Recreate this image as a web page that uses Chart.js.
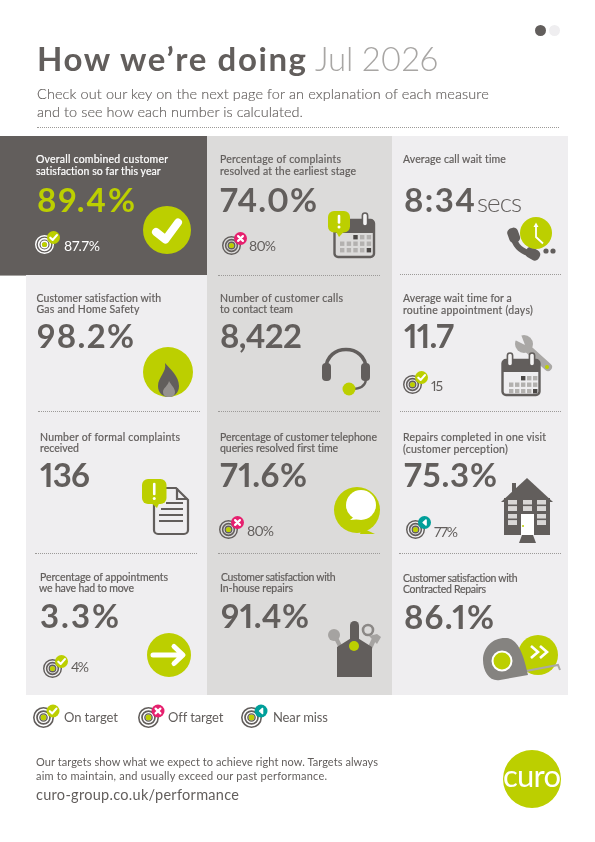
<!DOCTYPE html>
<html>
<head>
<meta charset="utf-8">
<title>How we're doing</title>
<script src="https://cdn.jsdelivr.net/npm/chart.js@4"></script>
<style>
html,body{margin:0;padding:0;background:#fff}
#page{position:relative;width:595px;height:842px;overflow:hidden;font-family:Lato,sans-serif;color:#625e5c}
.panel,.dots,canvas,#art,.txt{position:absolute}
.dots{height:0;border-top:1px dotted #9c9a98}
.txt{white-space:nowrap;z-index:5;line-height:1;font-variant-numeric:proportional-nums;font-feature-settings:"pnum"}
#art{left:0;top:0;z-index:3}
canvas{z-index:2}
</style>
</head>
<body>
<div id="page"></div>
<script>
// DATA
const tileTitles = [
	["Overall combined customer", "satisfaction so far this year"],
	["Percentage of complaints", "resolved at the earliest stage"],
	["Average call wait time"],
	["Customer satisfaction with", "Gas and Home Safety"],
	["Number of customer calls", "to contact team"],
	["Average wait time for a", "routine appointment (days)"],
	["Number of formal complaints", "received"],
	["Percentage of customer telephone", "queries resolved first time"],
	["Repairs completed in one visit", "(customer perception)"],
	["Percentage of appointments", "we have had to move"],
	["Customer satisfaction with", "In-house repairs"],
	["Customer satisfaction with", "Contracted Repairs"]
];
const tileValues = ["89.4%", "74.0%", "8:34", "98.2%", "8,422", "11.7", "136", "71.6%", "75.3%", "3.3%", "91.4%", "86.1%"];
const tileTargets = ["87.7%", "80%", null, null, null, "15", null, "80%", "77%", "4%", null, null];
const tileStatus = ["on", "off", null, null, null, "on", null, "off", "near", "on", null, null];
const legendLabels = ["On target", "Off target", "Near miss"];
const legendStatus = ["on", "off", "near"];

// LAYOUT (x, width, baseline)
const titleBoxes = [
	[[36,132,163],[36,125,175]], [[220,121,163],[220,136,175]], [[403,103,163]],
	[[36.5,125,302],[36.5,103,313]], [[220,123,302],[220,73,313]], [[403,109,302],[403,130,314]],
	[[40,140,441],[40,39,452]], [[220,157,441],[220,118,452]], [[403,143,441],[403,105,453]],
	[[40,128,581],[39,95,592]], [[221,115,581],[220,73,592]], [[403,115,582],[403,83,593]]
];
const valueBoxes = [[37,98,212],[220,97,212],[404,71,212],[37,97,348],[220,82,348],[404,50,348],[40,50,487],[220,87,487],[404,93,487],[40,79,628],[221,88,628],[404,90,629]];
const targetBoxes = [[64,36,250.5],[249,27,250.5],null,null,null,[431,12,391],null,[247,27,536],[434,24,537],[71,18,672],null,null];
const ringSpots = [[44,244],[231,245],null,null,null,[412,384],null,[228,529],[415,529],[52,668],null,null];
const legendBoxes = [[64,54,722],[168,55,722],[273,55,722]];
const legendRings = [[43,717],[148,717],[251,717]];

const GREEN = "#bccf00", DARK = "#625e5c", PALE = "#efeef0", MID = "#dcdbda";
const STATUS_COLOR = {on: GREEN, off: "#e6206e", near: "#009f9a"};
const page = document.getElementById("page");

function panel(x, y, w, h, color){
	const d = document.createElement("div");
	d.className = "panel";
	d.style.cssText = `left:${x}px;top:${y}px;width:${w}px;height:${h}px;background:${color}`;
	page.appendChild(d);
}
function dots(x1, x2, y){
	const d = document.createElement("div");
	d.className = "dots";
	d.style.cssText = `left:${x1}px;top:${y}px;width:${x2-x1}px`;
	page.appendChild(d);
}
// text placed by its baseline, letter spacing stretched to the reference width
function text(str, box, size, weight, color, stroke){
	const d = document.createElement("div");
	d.className = "txt";
	d.style.cssText = `left:${box[0]}px;top:0;font-size:${size}px;font-weight:${weight};color:${color||DARK}`;
	if(stroke) d.style.webkitTextStroke = stroke + "px " + (color||DARK);
	d.textContent = str;
	const mark = document.createElement("span");
	mark.style.cssText = "display:inline-block;width:0;height:0";
	d.appendChild(mark);
	page.appendChild(d);
	const base = mark.getBoundingClientRect().bottom - page.getBoundingClientRect().top;
	d.removeChild(mark);
	d.style.top = (box[2] - base) + "px";
	d.style.letterSpacing = ((box[1] - d.getBoundingClientRect().width) / (str.length - 1)) + "px";
}
function makeCanvas(cx, cy, r){
	const c = document.createElement("canvas");
	c.width = c.height = r * 2;
	c.style.cssText = `left:${cx-r}px;top:${cy-r}px;width:${r*2}px;height:${r*2}px`;
	page.appendChild(c);
	return c;
}
function disc(cx, cy, r, color){
	new Chart(makeCanvas(cx, cy, r), {
		type: "doughnut",
		data: {datasets: [{data: [1], backgroundColor: [color], borderWidth: 0}]},
		options: {responsive: false, animation: false, cutout: 0, plugins: {legend: {display: false}, tooltip: {enabled: false}}}
	});
}
// target symbol: concentric rings, first dataset is the outermost
function target(cx, cy, r, color){
	const rings = [[color, 1.1], ["transparent", 1.1], [color, 1.2], ["transparent", 0.9], [color, 1.0], [GREEN, 2.0]];
	new Chart(makeCanvas(cx, cy, r), {
		type: "doughnut",
		data: {datasets: rings.map(g => ({data: [1], backgroundColor: [g[0]], borderWidth: 0, weight: g[1]}))},
		options: {responsive: false, animation: false, cutout: 0, plugins: {legend: {display: false}, tooltip: {enabled: false}}}
	});
}
function badge(cx, cy, status){
	let mark = "";
	if(status == "on") mark = `<path d="M${cx-3.2} ${cy+0.2}L${cx-0.8} ${cy+2.4}L${cx+3.4} ${cy-2.4}" stroke="#fff" stroke-width="2.2" fill="none" stroke-linecap="round" stroke-linejoin="round"/>`;
	if(status == "off") mark = `<path d="M${cx-2.4} ${cy-2.4}L${cx+2.4} ${cy+2.4}M${cx+2.4} ${cy-2.4}L${cx-2.4} ${cy+2.4}" stroke="#fff" stroke-width="2.2" stroke-linecap="round"/>`;
	if(status == "near") mark = `<path d="M${cx+1.6} ${cy-2.6}L${cx-1.4} ${cy}L${cx+1.6} ${cy+2.6}Z" stroke="#fff" stroke-width="1.4" fill="#fff" stroke-linejoin="round"/>`;
	return `<circle cx="${cx}" cy="${cy}" r="6.5" fill="${STATUS_COLOR[status]}"/>` + mark;
}
function calendar(x, y, w, h, rings, bg, rows, cols, cell){
	let s = `<rect x="${x}" y="${y}" width="${w}" height="${h}" rx="3.5" fill="${bg}" stroke="${DARK}" stroke-width="2.4"/>`;
	s += `<path d="M${x} ${y+3}a3 3 0 0 1 3 -3h${w-6}a3 3 0 0 1 3 3v${cell.head}h-${w}z" fill="${DARK}"/>`;
	rings.forEach(r => {
		s += `<rect x="${r-2.6}" y="${y-7}" width="5.2" height="13" rx="2.6" fill="#f4f3f3" stroke="${DARK}" stroke-width="1.6"/>`;
	});
	rows.forEach((ry, i) => cols.forEach((cx, j) => {
		if(i == 0 && j < 2) return;
		const dark = (i == 0 && j == 2) || (i == 2 && j == 4);
		s += `<rect x="${cx}" y="${ry}" width="4.4" height="4.4" fill="${dark ? "#4a4745" : "#b3b1af"}"/>`;
	}));
	return s;
}
function bubble(x, y, w, h, tx, ty){
	const mid = x + w / 2;
	return `<rect x="${x}" y="${y}" width="${w}" height="${h}" rx="6" fill="${GREEN}"/>`
		+ `<path d="M${mid-3} ${y+h-1}L${tx} ${ty}L${mid+5} ${y+h-1}Z" fill="${GREEN}"/>`
		+ `<path d="M${mid} ${y+5}V${y+h-10}" stroke="#fff" stroke-width="2.6" stroke-linecap="round"/>`
		+ `<circle cx="${mid}" cy="${y+h-5.5}" r="1.5" fill="#fff"/>`;
}

// PANELS
panel(0, 136, 207, 139, DARK);
panel(26, 275, 181, 420, PALE);
panel(207, 136, 185, 559, MID);
panel(392, 136, 176, 559, PALE);
panel(0, 275, 26, 1, "#a5a3a1");

// DOTTED RULES
dots(37, 559, 127);
dots(218, 380, 275); dots(400, 561, 274);
dots(38, 200, 411); dots(218, 380, 411); dots(400, 561, 411);
dots(35, 197, 553); dots(218, 380, 553); dots(399, 561, 553);

// HEADER
text("How we’re doing", [37, 269, 71], 33, 700);
text("Jul 2026", [315, 123, 71], 33, 300, "#a8a6a4");
text("Check out our key on the next page for an explanation of each measure", [37, 452, 99], 14.5, 300, DARK, 0.15);
text("and to see how each number is calculated.", [37, 266, 117], 14.5, 300, DARK, 0.15);

// TILES
tileTitles.forEach((lines, i) => {
	const color = i == 0 ? "#fff" : DARK;
	lines.forEach((line, j) => text(line, titleBoxes[i][j], 10.5, 400, color, 0.2));
	text(tileValues[i], valueBoxes[i], 33, 700, i == 0 ? GREEN : DARK);
	if(tileTargets[i]){
		text(tileTargets[i], targetBoxes[i], 14, 400, color);
		target(ringSpots[i][0], ringSpots[i][1], 9.5, i == 0 ? "#fff" : DARK);
	}
});
text("secs", [477, 45, 212], 26, 300);

// LEGEND
legendLabels.forEach((label, i) => {
	text(label, legendBoxes[i], 13, 400);
	target(legendRings[i][0], legendRings[i][1], 10.5, DARK);
});

// FOOTER
text("Our targets show what we expect to achieve right now. Targets always", [36, 342, 766], 11, 400);
text("aim to maintain, and usually exceed our past performance.", [36, 291, 780], 11, 400);
text("curo-group.co.uk/performance", [36, 203, 800], 14.5, 400);

// BIG DISCS AND PAGER
disc(540, 30.5, 5.5, DARK);
disc(554, 30.5, 5.5, PALE);
disc(167, 230, 24, GREEN);
disc(168, 372, 25, GREEN);
disc(169, 655, 22, GREEN);
disc(532, 779, 29, GREEN);
text("curo", [503, 58, 787], 31, 400, "#fff");

// ICONS
let art = "";
tileStatus.forEach((s, i) => {
	if(s) art += badge(ringSpots[i][0] + 9.5, ringSpots[i][1] - 6.5, s);
});
legendStatus.forEach((s, i) => {
	art += badge(legendRings[i][0] + 10, legendRings[i][1] - 6, s);
});
// check
art += `<path d="M156 232L165.5 239.5L178 222.5" stroke="#fff" stroke-width="8" fill="none" stroke-linecap="round" stroke-linejoin="round"/>`;
// complaints calendar
art += calendar(334.5, 220, 39.5, 37, [365], MID, [235, 241.5, 248], [340, 346.7, 353.3, 360, 366.7], {head: 10});
art += bubble(328, 211, 22, 21.5, 339, 237);
// phone and clock
art += `<path d="M513 236C515 246 522 252 532 254" stroke="${DARK}" stroke-width="6" fill="none"/>`;
art += `<rect x="508" y="228" width="11" height="15" rx="4.5" transform="rotate(-20 513 235)" fill="${DARK}"/>`;
art += `<rect x="525" y="248" width="15" height="11" rx="4.5" transform="rotate(30 532 254)" fill="${DARK}"/>`;
art += `<circle cx="536" cy="233" r="16" fill="${GREEN}"/>`;
art += `<path d="M536 225V237L543 243.5" stroke="#fff" stroke-width="1.8" fill="none"/><path d="M533.5 227L536 222.5L538.5 227Z" fill="#fff"/>`;
art += `<circle cx="546" cy="251" r="2.6" fill="${DARK}"/><circle cx="553" cy="251" r="2.6" fill="${DARK}"/>`;
// flame
art += `<path d="M165 363C170 369 179 376 179 386C179 393 174 397 168.5 397C163 397 158 393 158 386C158 377 167 372 165 363Z" fill="${DARK}"/>`;
art += `<path d="M169 381C171 385 175 388 175 392C175 395 173 397 169 397C165 397 163 395 163 392C163 388 168 386 169 381Z" fill="#96928f"/>`;
// headset
art += `<path d="M326 369C326 343 366 343 366 369" stroke="${DARK}" stroke-width="3.6" fill="none"/>`;
art += `<rect x="322" y="363" width="9" height="18" rx="4" fill="${DARK}"/><rect x="361" y="363" width="9" height="18" rx="4" fill="${DARK}"/>`;
art += `<path d="M366 380C365 386 360 389 352 389" stroke="${DARK}" stroke-width="2.2" fill="none"/>`;
art += `<circle cx="349" cy="389" r="6.5" fill="${GREEN}"/>`;
// wrench and calendar
art += `<circle cx="524" cy="344" r="9" fill="#aaa8a6"/><path d="M525 345L513 339L520 332Z" fill="${PALE}"/>`;
art += `<path d="M527 348L548 367" stroke="#aaa8a6" stroke-width="8" stroke-linecap="round"/>`;
art += `<circle cx="547" cy="367" r="2" fill="${GREEN}"/>`;
art += calendar(502.5, 360, 37, 35, [510, 532], PALE, [376, 382.5, 389], [509, 515, 521, 527, 533], {head: 9});
// document
art += `<path d="M157 488H176L188 500V530a4 4 0 0 1 -4 4H158a4 4 0 0 1 -4 -4V492" fill="${PALE}" stroke="${DARK}" stroke-width="2.2"/><path d="M177 488V499H188" fill="none" stroke="${DARK}" stroke-width="2.2"/>`;
art += `<path d="M166 503H183M161 509H183M159 515H183M159 521H183" stroke="${DARK}" stroke-width="2.2"/>`;
art += bubble(142, 479, 24.5, 25, 157, 508);
// speech
art += `<circle cx="357" cy="510" r="23" fill="${GREEN}"/><path d="M362 528L375 534L360 534Z" fill="${GREEN}"/>`;
art += `<circle cx="361" cy="505" r="15" fill="#fff"/><path d="M355 516L350 520L362 519Z" fill="#fff"/>`;
// house
art += `<rect x="512" y="483" width="4" height="14" fill="${DARK}"/><path d="M527 478L553 502H501Z" fill="${DARK}"/><rect x="504" y="498" width="46" height="37" fill="${DARK}"/><path d="M519 543L522 535H533L536 543Z" fill="${DARK}"/>`;
[[508,500],[523,500],[537,500],[508,514],[537,514]].forEach(w => {
	art += `<rect x="${w[0]}" y="${w[1]}" width="9" height="11" fill="#d9d7d6"/><rect x="${w[0]}" y="${w[1]+4.5}" width="9" height="1.6" fill="${DARK}"/>`;
});
art += `<rect x="521" y="514" width="13" height="21" fill="#fff"/><circle cx="523" cy="526" r="1" fill="${GREEN}"/>`;
// arrow
art += `<path d="M153 655H182M174 646.5L183 655L174 663.5" stroke="#fff" stroke-width="5" fill="none" stroke-linecap="round" stroke-linejoin="round"/>`;
// tool belt
art += `<circle cx="334" cy="635" r="6" fill="#a5a3a1"/><path d="M336 638L342 650" stroke="#a5a3a1" stroke-width="4"/>`;
art += `<circle cx="368" cy="630" r="5" fill="none" stroke="#8b8886" stroke-width="2.6"/><path d="M375 637L369 650" stroke="#a5a3a1" stroke-width="4.5"/><path d="M369 636L377 634L381 637L377 644Z" fill="#a5a3a1"/>`;
art += `<rect x="350" y="621" width="9" height="30" rx="4.5" fill="${DARK}"/><path d="M337 677V647L354.5 636L372 647V677Z" fill="${DARK}"/>`;
art += `<circle cx="354" cy="646" r="5" fill="${GREEN}"/>`;
// tape
art += `<circle cx="538" cy="655" r="20" fill="${GREEN}"/><path d="M531 646L538 652L531 658M540 646L547 652L540 658" stroke="#fff" stroke-width="2.6" fill="none"/>`;
art += `<path d="M526 671L558 665L560 670" stroke="#aaa8a6" stroke-width="2" fill="none"/>`;
art += `<path d="M483 660C483 647 493 637 507 638C518 639 524 655 528 675L500 680C490 682 483 672 483 660Z" fill="#858380"/>`;
art += `<circle cx="502" cy="661" r="9.5" fill="${GREEN}" stroke="#fff" stroke-width="2"/>`;

page.insertAdjacentHTML("beforeend", `<svg id="art" width="595" height="842" viewBox="0 0 595 842">${art}</svg>`);
</script>
</body>
</html>
